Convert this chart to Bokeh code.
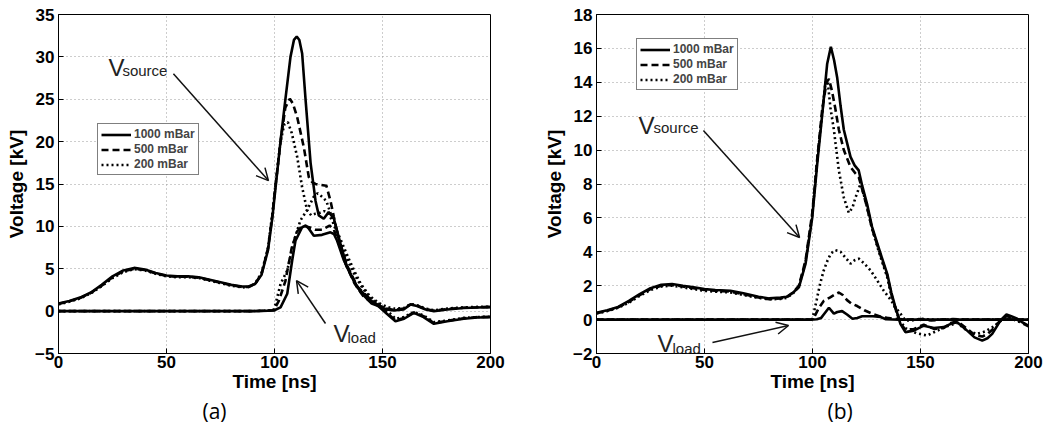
from bokeh.plotting import figure
from bokeh.layouts import row
from bokeh.models import Range1d, FixedTicker, Label, Arrow, OpenHead, Legend, LegendItem, Title
from bokeh.embed import file_html
from bokeh.resources import INLINE

# ---------------- Data: panel (a) ----------------
legend_labels = ["1000 mBar", "500 mBar", "200 mBar"]
x_ticks = [0, 50, 100, 150, 200]
y_ticks_a = [-5, 0, 5, 10, 15, 20, 25, 30, 35]
y_ticks_b = [-2, 0, 2, 4, 6, 8, 10, 12, 14, 16, 18]

t_src_1000_a = [0, 5, 10, 15, 20, 25, 30, 35, 40, 45, 50, 55, 60, 65, 70, 75, 80, 85, 88, 91, 94, 97, 99, 100.5,
                102.8, 105, 107.4, 109, 110.3, 111.5, 112.8, 114.4, 116.7, 119, 120.5, 122.8, 125.1, 127.5, 130.6,
                133.6, 138.3, 144.4, 148, 152, 156, 160, 164.5, 169, 173.8, 180, 187.6, 194, 200]
v_src_1000_a = [0.9, 1.2, 1.6, 2.2, 3.1, 4.1, 4.8, 5.1, 4.9, 4.5, 4.2, 4.1, 4.1, 4.0, 3.7, 3.4, 3.1, 2.9, 2.9, 3.2,
                4.3, 7.2, 11.0, 14.6, 20.1, 24.9, 30.0, 32.0, 32.4, 32.0, 30.4, 24.9, 17.5, 13.0, 11.3, 10.9, 11.7,
                10.9, 7.9, 5.2, 2.8, 1.3, 0.6, -0.3, -1.2, -0.9, -0.2, -0.7, -1.5, -1.2, -0.9, -0.75, -0.72]

t_src_500_a = [0, 5, 10, 15, 20, 25, 30, 35, 40, 45, 50, 55, 60, 65, 70, 75, 80, 85, 88, 91, 94, 97, 99, 100.5,
               102.8, 105, 107.1, 108.5, 110.5, 113.6, 115.9, 117.5, 119, 121, 124, 125.9, 127.5, 130, 133.6,
               138.3, 144.4, 148, 152, 156, 160, 164.5, 169, 173.8, 180, 187.6, 194, 200]
v_src_500_a = [0.85, 1.15, 1.55, 2.15, 3.0, 4.0, 4.7, 5.0, 4.85, 4.45, 4.15, 4.05, 4.05, 3.95, 3.65, 3.35, 3.05,
               2.85, 2.85, 3.2, 4.4, 7.4, 11.3, 14.9, 20.0, 24.0, 25.05, 24.5, 22.9, 19.3, 15.8, 15.2, 15.0, 14.9,
               14.8, 13.05, 11.1, 8.2, 5.4, 2.9, 1.4, 0.7, -0.2, -1.1, -0.8, -0.15, -0.6, -1.4, -1.15, -0.85,
               -0.7, -0.68]

t_src_200_a = [0, 5, 10, 15, 20, 25, 30, 35, 40, 45, 50, 55, 60, 65, 70, 75, 80, 85, 88, 91, 94, 97, 99, 100.5,
               102.8, 104.5, 106.2, 108, 110.5, 112.8, 115.1, 117, 119, 121, 123, 125, 127, 130, 133, 136, 140,
               144, 148, 152, 156, 160, 164.5, 169, 173.8, 180, 187.6, 194, 200]
v_src_200_a = [0.8, 1.1, 1.5, 2.1, 2.95, 3.9, 4.6, 4.95, 4.8, 4.4, 4.1, 4.0, 4.0, 3.9, 3.6, 3.3, 3.0, 2.8, 2.85,
               3.25, 4.5, 7.5, 11.5, 15.0, 20.0, 22.0, 22.3, 21.0, 18.2, 14.6, 11.9, 11.3, 11.5, 11.6, 11.8, 11.5,
               10.5, 8.5, 6.5, 4.8, 3.0, 1.6, 0.9, 0.1, -0.9, -0.7, -0.1, -0.5, -1.3, -1.1, -0.8, -0.7, -0.65]

t_load_1000_a = [0, 50, 90, 97, 99.7, 102.8, 105.9, 108.2, 109.7, 112.8, 114.5, 116, 118.2, 122, 125.9, 127.5,
                 129, 132.1, 136.7, 140, 145, 149, 152, 155.2, 159.8, 163, 166, 170, 173.8, 180, 187.6, 194, 200]
v_load_1000_a = [0, 0, 0, 0.05, 0.07, 0.45, 2.05, 6.0, 8.3, 9.9, 10.1, 9.7, 8.9, 9.0, 9.3, 9.1, 8.3, 6.0, 3.6,
                 2.2, 0.9, 0.5, 0.2, 0.07, 0.2, 0.78, 0.6, 0.2, 0.0, 0.2, 0.36, 0.43, 0.47]

t_load_500_a = [0, 50, 90, 99.7, 102, 105, 108, 110.5, 113, 116, 119, 122, 125.5, 127.5, 130, 133, 137, 141, 145,
                149, 152, 155.2, 159.8, 163, 166, 170, 173.8, 180, 187.6, 194, 200]
v_load_500_a = [0, 0, 0, 0.1, 1.2, 3.5, 7.5, 9.4, 10.1, 9.9, 9.6, 9.6, 10.1, 9.6, 7.8, 5.5, 3.3, 1.8, 1.0, 0.6,
                0.3, 0.15, 0.3, 0.8, 0.65, 0.25, 0.05, 0.25, 0.4, 0.45, 0.5]

t_load_200_a = [0, 50, 90, 99.5, 100.5, 102.8, 105.9, 109, 112, 115, 118.2, 120, 122, 124, 126, 128, 131, 134, 137,
                140, 144, 148, 152, 155.2, 159.8, 163, 166, 170, 173.8, 180, 187.6, 194, 200]
v_load_200_a = [0, 0, 0, 0.1, 0.86, 3.2, 4.8, 8.3, 10.7, 11.9, 13.5, 13.9, 13.5, 13.0, 11.5, 10.0, 8.2, 6.4, 4.7,
                3.2, 1.8, 1.0, 0.5, 0.3, 0.35, 0.85, 0.7, 0.3, 0.1, 0.3, 0.45, 0.5, 0.5]

# ---------------- Data: panel (b) ----------------
t_src_1000_b = [0, 5, 10, 15, 20, 25, 30, 35, 40, 45, 50, 55, 62, 68, 75, 80, 85.2, 88, 91, 93.7, 96.8, 99.9,
                102.2, 104.5, 106.8, 108.5, 110, 111.4, 113, 114.5, 117.6, 119.5, 121.4, 123, 125.3, 127.5, 130,
                132, 134.6, 136.5, 138.4, 140.7, 143, 146.9, 151.5, 156.2, 160.8, 164, 167, 171.6, 175, 178.6,
                181, 183.2, 187, 189.8, 192, 194.8, 197, 200]
v_src_1000_b = [0.4, 0.55, 0.75, 1.1, 1.5, 1.85, 2.05, 2.1, 2.0, 1.9, 1.8, 1.75, 1.7, 1.55, 1.35, 1.25, 1.3, 1.35,
                1.6, 1.9, 3.3, 6.04, 9.2, 12.1, 15.1, 16.1, 15.3, 14.3, 12.6, 11.2, 9.6, 9.1, 8.8, 7.9, 6.8, 5.5,
                4.5, 3.7, 2.7, 1.6, 0.73, -0.25, -0.74, -0.65, -0.36, -0.5, -0.44, -0.25, -0.15, -0.65, -1.05,
                -1.24, -1.1, -0.84, -0.05, 0.3, 0.2, 0.05, -0.15, -0.36]

t_src_500_b = [0, 5, 10, 15, 20, 25, 30, 35, 40, 45, 50, 55, 62, 68, 75, 80, 85.2, 88, 91, 93.7, 96.8, 99.9,
               102.2, 104.5, 106.5, 107.6, 109, 110.5, 112.2, 114.5, 117.6, 120, 121.4, 123, 125.3, 127.5, 130, 132,
               134.6, 136.5, 138.4, 140.7, 143, 147, 151.5, 156.2, 160.8, 164, 167, 171.6, 175, 178.6, 181, 183.2,
               187, 189.8, 192, 194.8, 197, 200]
v_src_500_b = [0.38, 0.52, 0.72, 1.05, 1.45, 1.8, 2.0, 2.05, 1.95, 1.85, 1.75, 1.7, 1.65, 1.5, 1.3, 1.2, 1.25,
               1.3, 1.6, 2.0, 3.5, 6.3, 9.5, 12.4, 14.0, 14.2, 13.5, 12.5, 11.2, 10.0, 9.0, 8.6, 8.4, 7.7, 6.6, 5.4,
               4.4, 3.6, 2.6, 1.5, 0.65, -0.2, -0.6, -0.55, -0.3, -0.55, -0.5, -0.2, -0.1, -0.55, -0.9, -1.0,
               -0.85, -0.6, -0.05, 0.2, 0.15, 0.0, -0.2, -0.4]

t_src_200_b = [0, 5, 10, 15, 20, 25, 30, 35, 40, 45, 50, 55, 62, 68, 75, 80, 85.2, 88, 91, 93.7, 96.8, 99.9,
               102.2, 104.5, 106, 107, 108.3, 109.9, 112.2, 114.5, 116.8, 118.5, 119.9, 122.2, 123.5, 125.3, 127.5,
               130, 132, 134.6, 136.5, 138.4, 140.7, 143, 148, 153, 157, 162, 167, 171, 176, 180, 184, 188, 191,
               195, 200]
v_src_200_b = [0.36, 0.5, 0.7, 1.0, 1.4, 1.75, 1.95, 2.0, 1.9, 1.8, 1.7, 1.65, 1.6, 1.45, 1.28, 1.2, 1.22, 1.28,
               1.55, 1.95, 3.4, 6.2, 9.4, 12.2, 14.0, 14.1, 12.5, 11.2, 8.8, 7.2, 6.3, 6.6, 7.2, 8.0, 7.5, 6.6,
               5.4, 4.3, 3.5, 2.5, 1.4, 0.6, -0.1, -0.5, -0.8, -0.94, -0.7, -0.4, -0.2, -0.6, -0.85, -0.7, -0.4,
               0.0, 0.1, -0.1, -0.3]

t_load_1000_b = [0, 50, 99, 102, 104, 105.2, 107.6, 109.9, 111.5, 113.7, 116, 118.5, 120.7, 123, 125.3, 128,
                 131.5, 134, 140, 200]
v_load_1000_b = [0, 0, 0, 0.02, 0.1, 0.3, 0.7, 0.35, 0.45, 0.5, 0.3, 0.05, 0.1, 0.2, 0.2, 0.2, 0.15, 0.02, 0.0,
                 0.0]

t_load_500_b = [0, 50, 99.5, 101, 103, 105.2, 108, 110, 112.2, 114, 116, 118, 120.7, 124, 128.6, 132, 134.6, 138,
                145, 150, 155, 160, 165, 170, 200]
v_load_500_b = [0, 0, 0, 0.2, 0.7, 1.1, 1.3, 1.45, 1.6, 1.45, 1.15, 0.95, 0.8, 0.55, 0.3, 0.15, 0.1, 0.05, 0.0,
                0.03, -0.05, 0.0, 0.03, 0.0, 0.0]

t_load_200_b = [0, 50, 99.5, 100, 102, 103.5, 105.2, 107, 108.5, 110.6, 113, 115, 117.6, 119.5, 121.4, 124, 126.9,
                130, 133, 136, 138.4, 141, 143, 146, 150, 155, 160, 200]
v_load_200_b = [0, 0, 0, 0.05, 1.2, 2.1, 2.9, 3.5, 3.9, 4.1, 4.0, 3.7, 3.3, 3.5, 3.6, 3.3, 2.9, 2.3, 1.7, 1.2,
                0.73, 0.3, -0.05, -0.05, 0.05, 0.0, 0.0, 0.0]

FONT = "Liberation Sans"
DASHES = ["solid", "7 4", "2 3"]
LW = 2.6


def style(p, yticks):
    p.xaxis.ticker = FixedTicker(ticks=x_ticks)
    p.yaxis.ticker = FixedTicker(ticks=yticks)
    for ax in (p.xaxis[0], p.yaxis[0]):
        ax.major_label_text_font = FONT
        ax.major_label_text_font_style = "bold"
        ax.major_label_text_font_size = "17px"
        ax.major_label_text_color = "black"
        ax.axis_label_text_font = FONT
        ax.axis_label_text_font_style = "bold"
        ax.axis_label_text_font_size = "19px"
        ax.axis_label_text_color = "black"
        ax.axis_line_color = "black"
        ax.major_tick_in = 5
        ax.major_tick_out = 0
        ax.minor_tick_line_color = None
        ax.major_tick_line_color = "black"
    p.xaxis.major_label_standoff = 2
    p.xaxis.axis_label_standoff = 0
    p.yaxis.major_label_standoff = 4
    p.yaxis.axis_label_standoff = 5
    p.xaxis.axis_label = "Time [ns]"
    p.yaxis.axis_label = "Voltage [kV]"
    for g in (p.xgrid[0], p.ygrid[0]):
        g.grid_line_color = "#9a9a9a"
        g.grid_line_dash = "1 3"
        g.grid_line_width = 1
    p.outline_line_color = "black"
    p.outline_line_width = 1
    p.background_fill_color = "white"
    p.border_fill_color = "white"


def make(src, loads, ymin, ymax, yticks, width, bl, br, legend_loc, tag, tag_offset):
    p = figure(width=width, height=428, output_backend="svg", toolbar_location=None,
               x_range=Range1d(0, 200), y_range=Range1d(ymin, ymax),
               min_border_left=bl, min_border_right=br, min_border_top=14, min_border_bottom=75)
    style(p, yticks)
    items = []
    for (t, v), dash, lab in zip(src, DASHES, legend_labels):
        r = p.line(t, v, line_color="black", line_width=LW, line_dash=dash)
        items.append(LegendItem(label=lab, renderers=[r]))
    for (t, v), dash in zip(loads, DASHES):
        p.line(t, v, line_color="black", line_width=LW, line_dash=dash)
    leg = Legend(items=items, location=legend_loc, border_line_color="black", border_line_width=1.5,
                 label_text_font=FONT, label_text_font_style="bold", label_text_font_size="12px",
                 glyph_width=30, glyph_height=13, label_height=13, label_standoff=3, spacing=1,
                 padding=3, margin=0, background_fill_alpha=1)
    p.add_layout(leg, "center")
    p.add_layout(Title(text=tag, align="left", offset=tag_offset, text_font="Open Sans",
                       text_font_size="21px", text_font_style="normal", text_color="black",
                       standoff=0), "below")
    return p


def vlabel(p, xv, yv, xs, ys, sub):
    p.add_layout(Label(x=xv, y=yv, text="V", text_font=FONT, text_font_size="24px", text_color="#222222",
                       text_baseline="alphabetic", text_align="left"))
    p.add_layout(Label(x=xs, y=ys, text=sub, text_font=FONT, text_font_size="15px", text_color="#222222",
                       text_baseline="alphabetic", text_align="left"))


def arrow(p, x0, y0, x1, y1):
    p.add_layout(Arrow(end=OpenHead(size=12, line_width=1.5, line_color="#111111"),
                       x_start=x0, y_start=y0, x_end=x1, y_end=y1, line_width=1.5, line_color="#111111"))


pa = make([(t_src_1000_a, v_src_1000_a), (t_src_500_a, v_src_500_a), (t_src_200_a, v_src_200_a)],
          [(t_load_1000_a, v_load_1000_a), (t_load_500_a, v_load_500_a), (t_load_200_a, v_load_200_a)],
          -5, 35, y_ticks_a, 520, 58, 30, (39, 178), "(a)", 144)
vlabel(pa, 23.1, 28.75, 29.6, 28.4, "source")
arrow(pa, 53.2, 28.0, 97.2, 15.4)
vlabel(pa, 127.3, -2.64, 133.8, -3.1, "load")
arrow(pa, 123.6, -1.46, 110.2, 3.6)

pb = make([(t_src_1000_b, v_src_1000_b), (t_src_500_b, v_src_500_b), (t_src_200_b, v_src_200_b)],
          [(t_load_1000_b, v_load_1000_b), (t_load_500_b, v_load_500_b), (t_load_200_b, v_load_200_b)],
          -2, 18, y_ticks_b, 523, 76, 15, (40, 263), "(b)", 231)
vlabel(pb, 19.4, 11.45, 26.4, 11.33, "source")
arrow(pb, 49.5, 11.16, 94.0, 4.84)
vlabel(pb, 28.2, -1.41, 35.2, -1.7, "load")
arrow(pb, 53.7, -1.35, 88.9, -0.35)

layout = row(pa, pb)
open("out.html", "w").write(file_html(layout, INLINE))
